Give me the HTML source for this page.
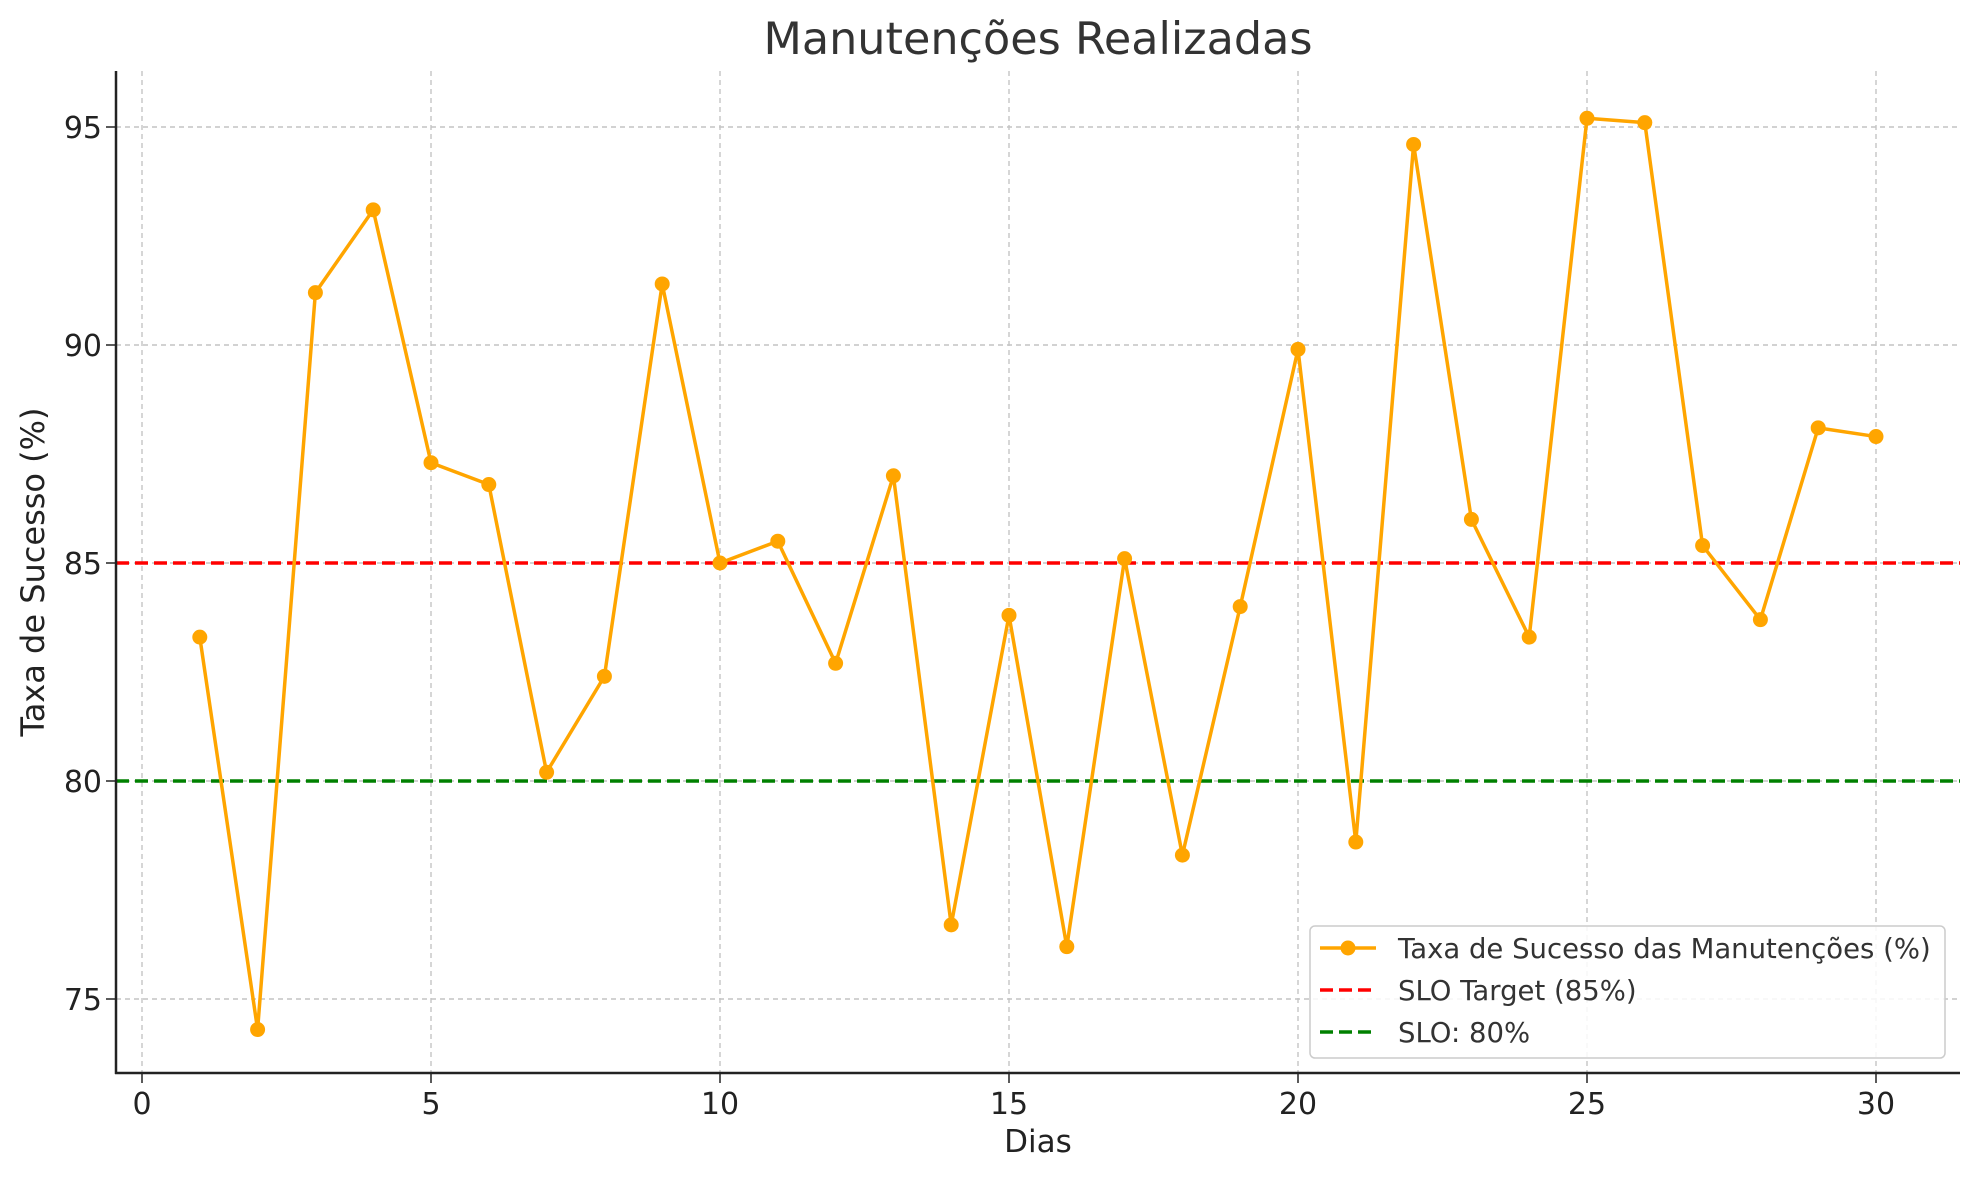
<!DOCTYPE html>
<html><head><meta charset="utf-8"><style>
html,body{margin:0;padding:0;background:#fff}
svg{display:block;font-family:"DejaVu Sans","Liberation Sans",sans-serif}
</style></head><body>
<svg id="chart" width="1979" height="1180" viewBox="0 0 1979 1180">
<text x="1038" y="54" font-size="44.5" fill="#333" text-anchor="middle">Manutenções Realizadas</text>
<g id="grid"></g>
<g id="refs"></g>
<g id="series"></g>
<g id="axes"></g>
<text x="1038" y="1152" font-size="31" fill="#222" text-anchor="middle">Dias</text>
<text transform="translate(44,572) rotate(-90)" font-size="32" fill="#222" text-anchor="middle">Taxa de Sucesso (%)</text>
<g>
<rect x="1310" y="926" width="635" height="132" rx="5" fill="#fff" fill-opacity="0.85" stroke="#ccc" stroke-width="1.5"/>
<g><line x1="1320" y1="948" x2="1376" y2="948" stroke="#FFA500" stroke-width="3.5"/><circle cx="1348" cy="948" r="7.5" fill="#FFA500"/><text x="1398" y="958" font-size="27.5" fill="#333">Taxa de Sucesso das Manutenções (%)</text></g>
<g><line x1="1320" y1="990" x2="1376" y2="990" stroke="red" stroke-width="3.5" stroke-dasharray="13,6"/><text x="1398" y="1000" font-size="27.5" fill="#333">SLO Target (85%)</text></g>
<g><line x1="1320" y1="1032" x2="1376" y2="1032" stroke="green" stroke-width="3.5" stroke-dasharray="13,6"/><text x="1398" y="1042" font-size="27.5" fill="#333">SLO: 80%</text></g>
</g>
</svg>
<script>
const days = [1,2,3,4,5,6,7,8,9,10,11,12,13,14,15,16,17,18,19,20,21,22,23,24,25,26,27,28,29,30];
const successRate = [83.3,74.3,91.2,93.1,87.3,86.8,80.2,82.4,91.4,85.0,85.5,82.7,87.0,76.7,83.8,76.2,85.1,78.3,84.0,89.9,78.6,94.6,86.0,83.3,95.2,95.1,85.4,83.7,88.1,87.9];
const xTicks = [0,5,10,15,20,25,30];
const yTicks = [75,80,85,90,95];
const refValues = [85,80];
const refColors = ['red','green'];

const L=116,R=1960,T=71,B=1073;
const xs=v=>142+(v-0)*(1876-142)/30;
const ys=v=>999-(v-75)*(999-127)/20;
const NS='http://www.w3.org/2000/svg';
function mk(tag,attrs,parent){const e=document.createElementNS(NS,tag);for(const k in attrs)e.setAttribute(k,attrs[k]);parent.appendChild(e);return e;}
const grid=document.getElementById('grid'),axes=document.getElementById('axes'),refs=document.getElementById('refs'),series=document.getElementById('series');
xTicks.forEach(t=>{
  const g=mk('line',{x1:xs(t),x2:xs(t),y1:T,y2:B,stroke:'#c4c4c4','stroke-width':1.4,'stroke-dasharray':'5,4'},grid);
  
  
  mk('line',{x1:xs(t),x2:xs(t),y1:B,y2:B+10,stroke:'#222','stroke-width':1.5},axes);
  const tx=mk('text',{x:xs(t),y:B+41,'font-size':30,fill:'#222','text-anchor':'middle'},axes);
  tx.textContent=t;
  
  
});
yTicks.forEach(t=>{
  const g=mk('line',{x1:L,x2:R,y1:ys(t),y2:ys(t),stroke:'#c4c4c4','stroke-width':1.4,'stroke-dasharray':'5,4'},grid);
  
  
  mk('line',{x1:L-10,x2:L,y1:ys(t),y2:ys(t),stroke:'#222','stroke-width':1.5},axes);
  const tx=mk('text',{x:L-14,y:ys(t)+11,'font-size':30,fill:'#222','text-anchor':'end'},axes);
  tx.textContent=t;
  
  
});
refValues.forEach((v,i)=>{
  const l=mk('line',{x1:L,x2:R,y1:ys(v),y2:ys(v),stroke:refColors[i],'stroke-width':3.5,'stroke-dasharray':'13,6'},refs);
  
  
});
const p=mk('polyline',{points:days.map((d,i)=>xs(d)+','+ys(successRate[i])).join(' '),fill:'none',stroke:'#FFA500','stroke-width':3.5,'stroke-linejoin':'round'},series);


days.forEach((d,i)=>{
  const c=mk('circle',{cx:xs(d),cy:ys(successRate[i]),r:7.5,fill:'#FFA500'},series);
  
  
});
mk('line',{x1:L,x2:L,y1:T,y2:B+1,stroke:'#222','stroke-width':2.5},axes);
mk('line',{x1:L-1,x2:R,y1:B,y2:B,stroke:'#222','stroke-width':2.5},axes);
</script>
</body></html>
